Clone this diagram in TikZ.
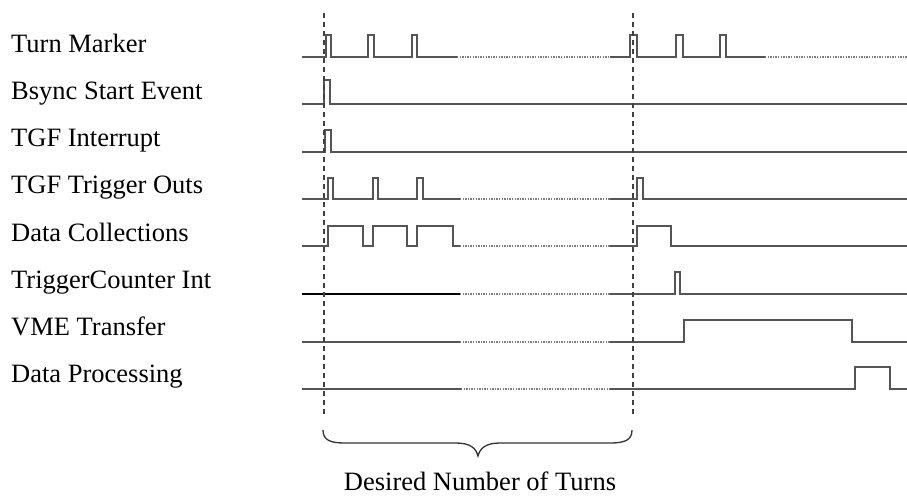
\documentclass[tikz,border=0pt]{standalone}
\usepackage{fontspec}
\setmainfont{Liberation Serif}
\definecolor{sigcol}{RGB}{85,85,85}
\definecolor{dotcol}{RGB}{125,125,125}
\begin{document}
\begin{tikzpicture}[x=1pt,y=-1pt,
  sig/.style={draw=sigcol,line width=1.4pt,line join=miter},
  dots/.style={draw=dotcol,line width=1.2pt,dash pattern=on 1.3pt off 1.3pt},
  marker/.style={draw=black!75,line width=1.3pt,dash pattern=on 5pt off 4pt},
  lbl/.style={anchor=base west,inner sep=0pt,font=\fontsize{26.5}{30}\selectfont},
  bracecurve/.style={draw=black!80,line width=1.3pt}]
\useasboundingbox (0,0) rectangle (907,498);
% labels
\node[lbl] (l1) at (11,52) {Turn Marker};
\node[lbl] (l2) at (11,99) {Bsync Start Event};
\node[lbl] (l3) at (11,146) {TGF Interrupt};
\node[lbl] (l4) at (11,193) {TGF Trigger Outs};
\node[lbl] (l5) at (11,241) {Data Collections};
\node[lbl] (l6) at (11,288) {TriggerCounter Int};
\node[lbl] (l7) at (11,335) {VME Transfer};
\node[lbl] (l8) at (11,382) {Data Processing};
% row 1
\draw[sig] (302,57) -- (326,57) -- (326,35) -- (331,35) -- (331,57) -- (368,57) -- (368,35) -- (374,35) -- (374,57) -- (412,57) -- (412,35) -- (417,35) -- (417,57) -- (457,57);
\draw[dots] (457,57) -- (610,57);
\draw[sig] (610,57) -- (630,57) -- (630,35) -- (637,35) -- (637,57) -- (676,57) -- (676,35) -- (683,35) -- (683,57) -- (720,57) -- (720,35) -- (726,35) -- (726,57) -- (765,57);
\draw[dots] (765,57) -- (907,57);
% row 2
\draw[sig] (302,104) -- (324,104) -- (324,80) -- (330,80) -- (330,104) -- (907,104);
% row 3
\draw[sig] (302,152) -- (325,152) -- (325,130) -- (331,130) -- (331,152) -- (907,152);
% row 4
\draw[sig] (302,199) -- (328,199) -- (328,178) -- (333,178) -- (333,199) -- (373,199) -- (373,178) -- (378,178) -- (378,199) -- (417,199) -- (417,178) -- (423,178) -- (423,199) -- (460,199);
\draw[dots] (460,199) -- (610,199);
\draw[sig] (610,199) -- (637,199) -- (637,178) -- (643,178) -- (643,199) -- (907,199);
% row 5
\draw[sig] (302,246) -- (328,246) -- (328,226) -- (363,226) -- (363,246) -- (373,246) -- (373,226) -- (407,226) -- (407,246) -- (417,246) -- (417,226) -- (453,226) -- (453,246) -- (460,246);
\draw[dots] (460,246) -- (610,246);
\draw[sig] (610,246) -- (637,246) -- (637,226) -- (671,226) -- (671,246) -- (907,246);
% row 6
\draw[sig,draw=black] (302,294) -- (460,294);
\draw[dots] (460,294) -- (610,294);
\draw[sig] (610,294) -- (675,294) -- (675,272) -- (680,272) -- (680,294) -- (907,294);
% row 7
\draw[sig] (302,342) -- (460,342);
\draw[dots] (460,342) -- (610,342);
\draw[sig] (610,342) -- (684,342) -- (684,320) -- (852,320) -- (852,342) -- (907,342);
% row 8
\draw[sig] (302,389) -- (461,389);
\draw[dots] (461,389) -- (610,389);
\draw[sig] (610,389) -- (855,389) -- (855,367) -- (890,367) -- (890,389) -- (907,389);
% turn boundaries
\coordinate (m1t) at (324,13);
\coordinate (m1b) at (324,415);
\coordinate (m2t) at (633,13);
\coordinate (m2b) at (633,415);
\draw[marker] (m1t) -- (m1b);
\draw[marker] (m2t) -- (m2b);
% brace
\coordinate (bl) at (323,430);
\coordinate (br) at (632,430);
\coordinate (bt) at (478,456);
\draw[bracecurve] (bl) .. controls (323,440) and (330,443) .. (345,443) -- (456,443) .. controls (470,443) and (476,448) .. (bt) .. controls (480,448) and (486,443) .. (500,443) -- (610,443) .. controls (625,443) and (632,440) .. (br);
\node[anchor=base,inner sep=0pt,font=\fontsize{26.5}{30}\selectfont] (turns) at (480,490) {Desired Number of Turns};
\end{tikzpicture}
\end{document}
